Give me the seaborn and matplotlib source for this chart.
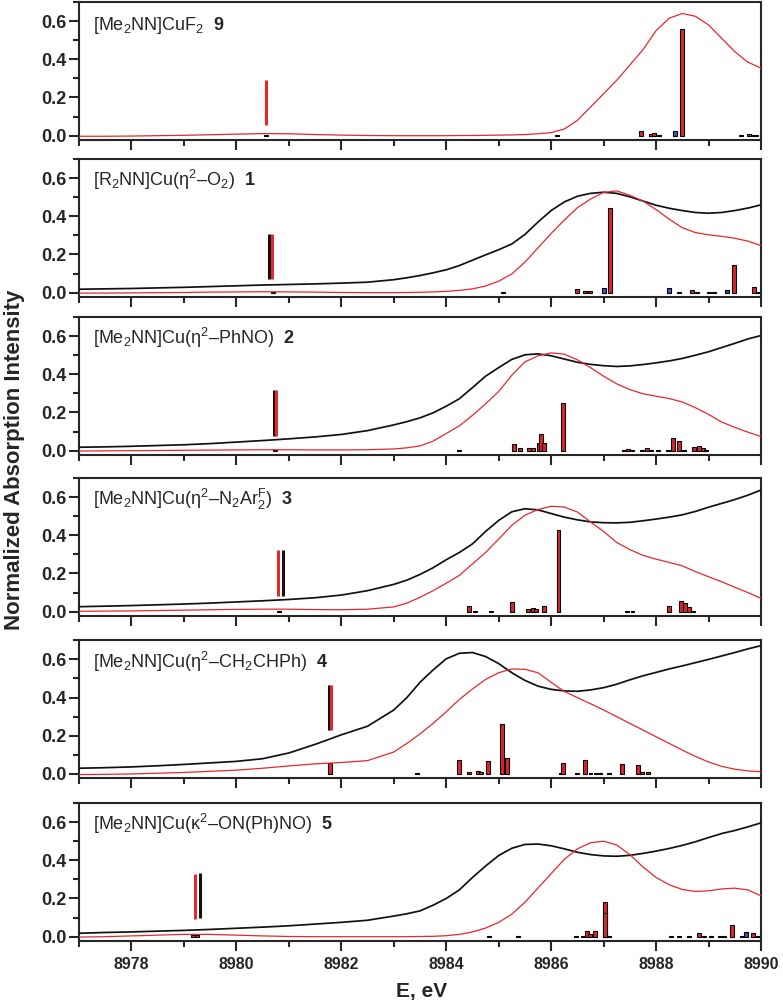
import matplotlib
matplotlib.use("Agg")
import matplotlib.pyplot as plt
from matplotlib.ticker import MultipleLocator, FormatStrFormatter
import seaborn as sns
import pandas as pd

# ---------------- data ----------------
energy = [8977.0, 8977.5, 8978.0, 8978.5, 8979.0, 8979.5, 8980.0, 8980.5, 8981.0, 8981.5,
          8982.0, 8982.5, 8983.0, 8983.25, 8983.5, 8983.75, 8984.0, 8984.25, 8984.5, 8984.75,
          8985.0, 8985.25, 8985.5, 8985.75, 8986.0, 8986.25, 8986.5, 8986.75, 8987.0, 8987.25,
          8987.5, 8987.75, 8988.0, 8988.25, 8988.5, 8988.75, 8989.0, 8989.25, 8989.5, 8989.75, 8990.0]

calc_9 = [-0.003, -0.003, -0.002, 0.0, 0.002, 0.005, 0.008, 0.011, 0.010, 0.006, 0.003, 0.001, 0.0,
          0.0, 0.0, 0.0, 0.0, 0.001, 0.001, 0.002, 0.003, 0.004, 0.006, 0.010, 0.016, 0.035, 0.080,
          0.150, 0.220, 0.290, 0.370, 0.450, 0.550, 0.615, 0.640, 0.625, 0.580, 0.510, 0.440, 0.385, 0.354]

exp_1 = [0.018, 0.020, 0.022, 0.025, 0.028, 0.032, 0.036, 0.040, 0.043, 0.046, 0.050, 0.055, 0.068,
         0.078, 0.090, 0.104, 0.120, 0.142, 0.170, 0.198, 0.225, 0.255, 0.305, 0.370, 0.430, 0.475,
         0.505, 0.520, 0.526, 0.520, 0.502, 0.480, 0.458, 0.442, 0.430, 0.420, 0.416, 0.420, 0.430, 0.443, 0.460]
calc_1 = [-0.002, -0.002, -0.001, 0.0, 0.001, 0.003, 0.004, 0.005, 0.004, 0.003, 0.001, 0.0, 0.0,
          0.001, 0.002, 0.004, 0.007, 0.012, 0.020, 0.035, 0.060, 0.098, 0.160, 0.235, 0.310, 0.380,
          0.445, 0.490, 0.525, 0.533, 0.510, 0.480, 0.435, 0.385, 0.340, 0.315, 0.303, 0.295, 0.285, 0.270, 0.247]

exp_2 = [0.018, 0.020, 0.023, 0.027, 0.031, 0.037, 0.045, 0.053, 0.062, 0.072, 0.085, 0.105, 0.135,
         0.152, 0.172, 0.198, 0.233, 0.272, 0.330, 0.390, 0.435, 0.478, 0.502, 0.507, 0.497, 0.480,
         0.463, 0.452, 0.445, 0.441, 0.444, 0.451, 0.460, 0.470, 0.483, 0.500, 0.518, 0.540, 0.562, 0.585, 0.603]
calc_2 = [-0.002, -0.001, 0.0, 0.001, 0.002, 0.003, 0.004, 0.005, 0.005, 0.004, 0.004, 0.005, 0.009,
          0.015, 0.025, 0.050, 0.090, 0.130, 0.185, 0.245, 0.310, 0.395, 0.465, 0.497, 0.512, 0.505,
          0.476, 0.435, 0.390, 0.350, 0.320, 0.298, 0.285, 0.273, 0.255, 0.225, 0.190, 0.150, 0.122, 0.097, 0.074]

exp_3 = [0.026, 0.029, 0.032, 0.036, 0.040, 0.045, 0.051, 0.057, 0.064, 0.073, 0.087, 0.110, 0.143,
         0.165, 0.195, 0.230, 0.272, 0.310, 0.355, 0.420, 0.478, 0.523, 0.539, 0.533, 0.514, 0.495,
         0.481, 0.470, 0.466, 0.465, 0.468, 0.476, 0.485, 0.495, 0.507, 0.525, 0.547, 0.567, 0.587, 0.610, 0.637]
calc_3 = [0.002, 0.003, 0.004, 0.006, 0.008, 0.010, 0.012, 0.013, 0.013, 0.011, 0.010, 0.013, 0.025,
          0.045, 0.075, 0.110, 0.149, 0.190, 0.250, 0.310, 0.380, 0.452, 0.505, 0.535, 0.552, 0.548,
          0.522, 0.470, 0.420, 0.362, 0.325, 0.295, 0.275, 0.258, 0.240, 0.210, 0.183, 0.157, 0.128, 0.100, 0.070]

exp_4 = [0.030, 0.033, 0.037, 0.043, 0.050, 0.058, 0.066, 0.080, 0.110, 0.155, 0.205, 0.250, 0.335,
         0.400, 0.480, 0.545, 0.603, 0.632, 0.636, 0.615, 0.578, 0.530, 0.490, 0.460, 0.443, 0.435,
         0.433, 0.440, 0.452, 0.470, 0.493, 0.514, 0.532, 0.550, 0.566, 0.583, 0.600, 0.618, 0.636, 0.655, 0.672]
calc_4 = [-0.003, -0.002, 0.0, 0.004, 0.008, 0.014, 0.020, 0.030, 0.042, 0.053, 0.060, 0.070, 0.115,
          0.160, 0.210, 0.265, 0.326, 0.390, 0.445, 0.495, 0.530, 0.550, 0.548, 0.530, 0.480, 0.432,
          0.400, 0.368, 0.335, 0.300, 0.265, 0.230, 0.195, 0.160, 0.125, 0.092, 0.063, 0.040, 0.025, 0.016, 0.012]

exp_5 = [0.018, 0.022, 0.025, 0.029, 0.033, 0.038, 0.044, 0.050, 0.057, 0.066, 0.075, 0.086, 0.108,
         0.120, 0.135, 0.165, 0.200, 0.245, 0.310, 0.370, 0.425, 0.463, 0.483, 0.485, 0.476, 0.460,
         0.442, 0.430, 0.423, 0.421, 0.426, 0.436, 0.448, 0.462, 0.478, 0.497, 0.519, 0.540, 0.556, 0.575, 0.596]
calc_5 = [-0.002, 0.0, 0.004, 0.008, 0.012, 0.012, 0.008, 0.004, 0.001, 0.0, 0.0, 0.0, 0.0,
          0.0, 0.001, 0.002, 0.005, 0.012, 0.025, 0.045, 0.075, 0.118, 0.180, 0.255, 0.330, 0.405,
          0.460, 0.492, 0.500, 0.480, 0.430, 0.365, 0.310, 0.272, 0.247, 0.237, 0.240, 0.250, 0.254, 0.245, 0.214]

# pre-edge markers (energy, lower, upper, kind)
mark_E_9 = [8980.57];            mark_lo_9 = [0.055];        mark_hi_9 = [0.29];         mark_k_9 = ["calc"]
mark_E_1 = [8980.63, 8980.67];   mark_lo_1 = [0.07, 0.07];   mark_hi_1 = [0.305, 0.305]; mark_k_1 = ["exp", "calc"]
mark_E_2 = [8980.71, 8980.76];   mark_lo_2 = [0.078, 0.078]; mark_hi_2 = [0.32, 0.32];   mark_k_2 = ["exp", "calc"]
mark_E_3 = [8980.79, 8980.89];   mark_lo_3 = [0.083, 0.083]; mark_hi_3 = [0.325, 0.325]; mark_k_3 = ["calc", "exp"]
mark_E_4 = [8981.77, 8981.80];   mark_lo_4 = [0.23, 0.23];   mark_hi_4 = [0.466, 0.466]; mark_k_4 = ["exp", "calc"]
mark_E_5 = [8979.22, 8979.30];   mark_lo_5 = [0.095, 0.10];  mark_hi_5 = [0.33, 0.335];  mark_k_5 = ["calc", "exp"]

# calculated transitions (stick bars)
bar_E_9 = [8980.56, 8986.11, 8987.71, 8987.90, 8987.96, 8988.05, 8988.36, 8988.49, 8989.61, 8989.77, 8989.84, 8989.90]
bar_H_9 = [0.005, 0.003, 0.025, 0.007, 0.014, 0.003, 0.022, 0.56, 0.003, 0.007, 0.004, 0.005]
bar_k_9 = ["r", "r", "r", "r", "r", "r", "b", "r", "r", "r", "r", "r"]

bar_E_1 = [8980.70, 8985.09, 8986.50, 8986.65, 8986.74, 8987.01, 8987.12, 8988.25, 8988.43, 8988.69,
           8988.78, 8989.01, 8989.11, 8989.36, 8989.49, 8989.87, 8989.95]
bar_H_1 = [0.005, 0.003, 0.018, 0.008, 0.007, 0.023, 0.446, 0.023, 0.004, 0.012,
           0.004, 0.003, 0.003, 0.012, 0.146, 0.028, 0.004]
bar_k_1 = ["r", "r", "r", "r", "r", "b", "r", "b", "r", "r", "r", "r", "r", "b", "r", "r", "r"]

bar_E_2 = [8980.73, 8984.24, 8985.30, 8985.41, 8985.58, 8985.65, 8985.76, 8985.81, 8985.87, 8986.22,
           8987.39, 8987.47, 8987.55, 8987.74, 8987.82, 8987.90, 8988.03, 8988.22, 8988.33, 8988.43,
           8988.54, 8988.73, 8988.81, 8988.89, 8988.95]
bar_H_2 = [0.006, 0.003, 0.035, 0.014, 0.014, 0.014, 0.042, 0.088, 0.042, 0.25,
           0.003, 0.010, 0.003, 0.003, 0.012, 0.003, 0.004, 0.004, 0.067, 0.053,
           0.004, 0.018, 0.025, 0.012, 0.003]
bar_k_2 = ["r"] * 25

bar_E_3 = [8980.82, 8984.43, 8984.55, 8984.85, 8985.25, 8985.55, 8985.66, 8985.72, 8985.86, 8986.14,
           8987.45, 8987.55, 8988.24, 8988.47, 8988.55, 8988.63, 8988.70]
bar_H_3 = [0.006, 0.028, 0.005, 0.005, 0.05, 0.012, 0.018, 0.012, 0.03, 0.426,
           0.005, 0.005, 0.028, 0.058, 0.047, 0.026, 0.005]
bar_k_3 = ["r"] * 17

bar_E_4 = [8981.79, 8983.45, 8984.24, 8984.44, 8984.60, 8984.67, 8984.79, 8985.07, 8985.15, 8986.18,
           8986.22, 8986.50, 8986.65, 8986.75, 8986.85, 8986.94, 8987.10, 8987.35, 8987.65, 8987.74, 8987.84]
bar_H_4 = [0.055, 0.003, 0.073, 0.010, 0.017, 0.008, 0.068, 0.26, 0.082, 0.005,
           0.059, 0.004, 0.073, 0.006, 0.004, 0.004, 0.006, 0.052, 0.047, 0.012, 0.010]
bar_k_4 = ["r"] * 21

bar_E_5 = [8979.18, 8979.25, 8984.81, 8985.36, 8986.47, 8986.60, 8986.68, 8986.74, 8986.84, 8987.02,
           8987.02, 8987.11, 8988.28, 8988.44, 8988.63, 8988.81, 8988.92, 8989.05, 8989.21, 8989.30,
           8989.45, 8989.64, 8989.72, 8989.84, 8989.94]
bar_H_5 = [0.010, 0.010, 0.003, 0.003, 0.003, 0.006, 0.032, 0.012, 0.032, 0.184,
           0.126, 0.005, 0.003, 0.004, 0.003, 0.018, 0.003, 0.003, 0.003, 0.006,
           0.061, 0.005, 0.026, 0.021, 0.006]
bar_k_5 = ["r"] * 22 + ["b", "r", "r"]

labels = [
    "[Me$_2$NN]CuF$_2$  $\\mathbf{9}$",
    "[R$_2$NN]Cu(η$^2$–O$_2$)  $\\mathbf{1}$",
    "[Me$_2$NN]Cu(η$^2$–PhNO)  $\\mathbf{2}$",
    "[Me$_2$NN]Cu(η$^2$–N$_2$Ar$^{\\mathrm{F}}_2$)  $\\mathbf{3}$",
    "[Me$_2$NN]Cu(η$^2$–CH$_2$CHPh)  $\\mathbf{4}$",
    "[Me$_2$NN]Cu(κ$^2$–ON(Ph)NO)  $\\mathbf{5}$",
]

panels = [
    (None, calc_9, mark_E_9, mark_lo_9, mark_hi_9, mark_k_9, bar_E_9, bar_H_9, bar_k_9),
    (exp_1, calc_1, mark_E_1, mark_lo_1, mark_hi_1, mark_k_1, bar_E_1, bar_H_1, bar_k_1),
    (exp_2, calc_2, mark_E_2, mark_lo_2, mark_hi_2, mark_k_2, bar_E_2, bar_H_2, bar_k_2),
    (exp_3, calc_3, mark_E_3, mark_lo_3, mark_hi_3, mark_k_3, bar_E_3, bar_H_3, bar_k_3),
    (exp_4, calc_4, mark_E_4, mark_lo_4, mark_hi_4, mark_k_4, bar_E_4, bar_H_4, bar_k_4),
    (exp_5, calc_5, mark_E_5, mark_lo_5, mark_hi_5, mark_k_5, bar_E_5, bar_H_5, bar_k_5),
]

# ---------------- style ----------------
sns.set_style("ticks")
plt.rcParams["font.family"] = ["Liberation Sans", "DejaVu Sans"]
plt.rcParams["mathtext.fontset"] = "custom"
plt.rcParams["mathtext.rm"] = "Liberation Sans"
plt.rcParams["mathtext.it"] = "Liberation Sans:italic"
plt.rcParams["mathtext.bf"] = "Liberation Sans:bold"

RED = "#e8262e"
BLUE = "#3a55c8"
BLACK = "#111111"
line_colors = {"calc": RED, "exp": BLACK}
bar_colors = {"r": "#e0262c", "b": BLUE}

W, H = 783, 1007
fig = plt.figure(figsize=(W / 100, H / 100), dpi=100)

# panel boxes in pixels: (top, bottom)
boxes = [(2.0, 139.5), (159.0, 296.5), (317.0, 454.5), (478.0, 615.5), (640.3, 777.8), (803.0, 940.5)]
left_px, right_px = 79, 761

for i, (box, pdata, lab) in enumerate(zip(boxes, panels, labels)):
    top, bot = box
    ax = fig.add_axes([left_px / W, 1 - bot / H, (right_px - left_px) / W, (bot - top) / H])
    exp_y, calc_y, mE, mlo, mhi, mk, bE, bH, bk = pdata

    # stick bars
    ax.bar(bE, bH, width=0.075, bottom=0,
           color=[bar_colors[k] for k in bk], edgecolor="black", linewidth=0.8, zorder=2)

    # spectra
    if exp_y is not None:
        sns.lineplot(data=pd.DataFrame({"E": energy, "I": exp_y}), x="E", y="I", ax=ax,
                     color=BLACK, lw=1.25, estimator=None, sort=False, zorder=3)
    sns.lineplot(data=pd.DataFrame({"E": energy, "I": calc_y}), x="E", y="I", ax=ax,
                 color=RED, lw=0.9, estimator=None, sort=False, zorder=3)

    # pre-edge markers
    for e, lo, hi, k in zip(mE, mlo, mhi, mk):
        ax.vlines(e, lo, hi, color=line_colors[k], lw=2.2, zorder=4)

    ax.set_xlim(8977, 8990)
    ax.set_ylim(-0.02, 0.70)
    ax.xaxis.set_major_locator(MultipleLocator(2))
    ax.xaxis.set_minor_locator(MultipleLocator(1))
    ax.yaxis.set_major_locator(MultipleLocator(0.2))
    ax.yaxis.set_minor_locator(MultipleLocator(0.1))
    ax.yaxis.set_major_formatter(FormatStrFormatter("%.1f"))
    ax.xaxis.set_major_formatter(FormatStrFormatter("%d"))
    ax.tick_params(axis="both", which="major", direction="out", length=7, width=1.5)
    ax.tick_params(axis="both", which="minor", direction="out", length=4, width=1.5)
    ax.tick_params(axis="y", which="major", pad=2, labelsize=13)
    ax.tick_params(axis="x", which="major", pad=5, labelsize=11.5)
    ax.tick_params(top=False, right=False, which="both")
    for lbl in ax.get_yticklabels() + ax.get_xticklabels():
        lbl.set_fontweight("bold")
    for s in ax.spines.values():
        s.set_linewidth(1.5)
        s.set_visible(True)
    ax.set_xlabel("")
    ax.set_ylabel("")
    if i < len(boxes) - 1:
        ax.tick_params(axis="x", labelbottom=False)
    ax.text(0.02, 0.80, lab, transform=ax.transAxes, fontsize=13, ha="left", va="baseline")

fig.text(0.019, 0.543, "Normalized Absorption Intensity", rotation=90, ha="center", va="center",
         fontsize=16, fontweight="bold")
fig.text(0.539, 0.015, "E, eV", ha="center", va="center", fontsize=15, fontweight="bold")

fig.savefig("out.png", dpi=100)
